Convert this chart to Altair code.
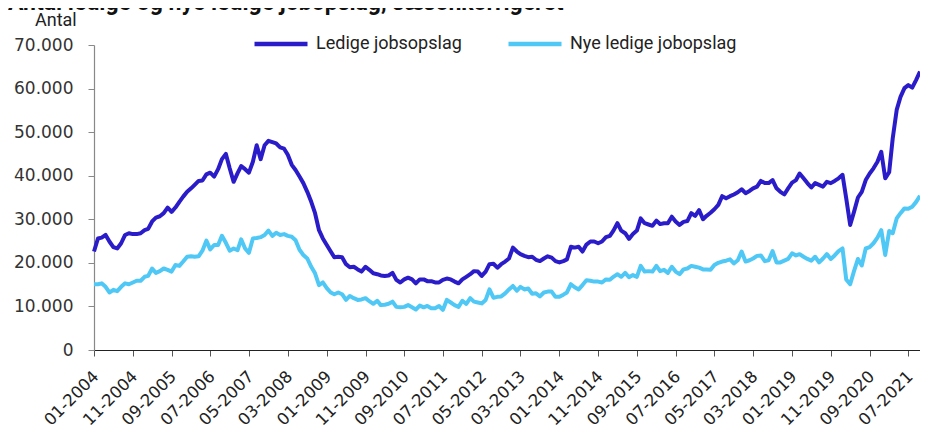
import altair as alt
import pandas as pd

TITLE = "Antal ledige og nye ledige jobopslag, sæsonkorrigeret"
Y_TITLE = "Antal"
SERIES = ["Ledige jobsopslag", "Nye ledige jobopslag"]
COLORS = ["#2A1CC8", "#4FC8F6"]
START_YEAR = 2004
END_DATE = "2021-10-01"

# thousands, monthly from 01-2004
LEDIGE = [
    22.6, 25.6, 25.8, 26.4, 24.9, 23.6, 23.3, 24.5, 26.4, 26.8,
    26.6, 26.6, 26.8, 27.5, 27.8, 29.5, 30.4, 30.7, 31.4, 32.7,
    31.7, 32.7, 34.0, 35.2, 36.3, 37.1, 37.9, 38.8, 38.9, 40.3,
    40.7, 39.8, 41.5, 43.8, 45.0, 41.7, 38.6, 40.6, 42.2, 41.5,
    40.7, 43.2, 47.0, 43.8, 47.0, 48.0, 47.7, 47.4, 46.5, 46.2,
    44.8, 42.5, 41.3, 39.8, 38.3, 36.3, 34.0, 31.4, 27.5, 25.6,
    24.1, 22.6, 21.3, 21.4, 21.3, 19.7, 19.0, 19.1, 18.5, 18.0,
    19.1, 18.4, 17.6, 17.4, 17.1, 17.0, 17.1, 17.7, 16.1, 15.5,
    16.2, 16.6, 16.2, 15.3, 16.2, 16.2, 15.8, 15.8, 15.5, 15.5,
    16.1, 16.4, 16.2, 15.7, 15.3, 16.2, 16.8, 17.4, 18.1, 18.0,
    17.0, 18.0, 19.7, 19.8, 18.9, 19.7, 20.3, 21.0, 23.5, 22.6,
    22.0, 21.6, 21.3, 21.4, 20.7, 20.4, 21.0, 21.5, 21.2, 20.4,
    20.1, 20.4, 20.8, 23.7, 23.5, 23.7, 22.6, 24.2, 24.9, 24.9,
    24.5, 24.9, 25.9, 26.2, 27.4, 29.1, 27.4, 26.8, 25.5, 26.6,
    27.4, 30.2, 29.1, 28.8, 28.5, 29.7, 28.9, 29.1, 29.1, 30.6,
    29.5, 28.7, 29.4, 29.6, 31.4, 30.8, 32.1, 30.0, 30.8, 31.5,
    32.3, 33.3, 35.3, 34.8, 35.3, 35.7, 36.2, 36.9, 36.0, 36.5,
    37.1, 37.5, 38.8, 38.3, 38.3, 39.0, 37.1, 36.3, 35.7, 37.1,
    38.4, 39.0, 40.5, 39.4, 38.3, 37.3, 38.3, 37.9, 37.5, 38.6,
    38.3, 38.8, 39.4, 40.2, 34.8, 28.7, 31.7, 35.0, 36.3, 39.0,
    40.5, 41.7, 43.2, 45.5, 39.4, 40.8, 48.6, 55.1, 58.1, 60.1,
    60.8, 60.2, 62.0, 63.9,
]
NYE = [
    15.1, 15.1, 15.3, 14.5, 13.2, 13.8, 13.5, 14.5, 15.3, 15.1,
    15.5, 15.9, 15.9, 16.8, 17.0, 18.7, 17.7, 18.1, 18.7, 18.4,
    18.0, 19.5, 19.3, 20.3, 21.4, 21.5, 21.4, 21.5, 22.8, 25.1,
    23.1, 24.1, 24.1, 26.2, 24.6, 22.8, 23.3, 22.9, 25.4, 23.3,
    22.3, 25.6, 25.7, 25.9, 26.4, 27.4, 26.2, 26.9, 26.4, 26.6,
    26.2, 26.0, 25.2, 23.0, 21.8, 21.0, 19.1, 17.6, 14.9, 15.5,
    14.2, 13.2, 12.8, 13.2, 12.8, 11.5, 12.4, 11.9, 11.5, 11.6,
    11.9, 11.2, 10.6, 11.3, 10.3, 10.4, 10.6, 11.1, 9.9, 9.8,
    9.9, 10.3, 9.8, 9.3, 10.2, 9.8, 10.1, 9.6, 9.6, 10.1,
    9.2, 11.5, 10.9, 10.3, 9.9, 11.3, 10.6, 11.9, 11.1, 10.9,
    10.7, 11.5, 13.9, 12.0, 12.2, 12.3, 13.0, 13.9, 14.7, 13.6,
    14.5, 13.9, 14.1, 12.9, 13.0, 12.3, 13.2, 13.4, 13.4, 12.2,
    12.2, 12.7, 13.2, 15.1, 14.4, 13.9, 14.9, 16.0, 15.9, 15.7,
    15.7, 15.5, 16.2, 16.1, 16.8, 17.4, 16.8, 17.7, 16.7, 17.2,
    16.8, 19.3, 18.0, 18.1, 18.0, 19.3, 18.1, 18.4, 17.7, 19.1,
    18.0, 17.4, 18.5, 18.7, 19.3, 19.1, 18.9, 18.5, 18.5, 18.4,
    19.5, 20.0, 20.3, 20.5, 20.8, 19.9, 20.6, 22.6, 20.3, 20.6,
    21.0, 21.6, 21.7, 20.4, 20.6, 22.7, 20.1, 20.1, 20.5, 20.9,
    22.2, 21.7, 22.0, 21.4, 20.9, 20.5, 21.4, 20.1, 21.0, 22.0,
    20.9, 21.7, 22.7, 23.3, 16.2, 15.1, 18.1, 20.9, 19.4, 23.3,
    23.6, 24.5, 25.8, 27.5, 21.8, 27.3, 26.8, 30.2, 31.4, 32.5,
    32.4, 32.9, 34.0, 35.4,
]
X_TICK_LABELS = [
    "01-2004", "11-2004", "09-2005", "07-2006", "05-2007", "03-2008",
    "01-2009", "11-2009", "09-2010", "07-2011", "05-2012", "03-2013",
    "01-2014", "11-2014", "09-2015", "07-2016", "05-2017", "03-2018",
    "01-2019", "11-2019", "09-2020", "07-2021",
]
Y_TICKS = [0, 10000, 20000, 30000, 40000, 50000, 60000, 70000]

n = len(LEDIGE)
months = [f"{START_YEAR + k // 12}-{k % 12 + 1:02d}-01" for k in range(n)]
df = pd.DataFrame({
    "date": months + months,
    "value": [v * 1000 for v in LEDIGE] + [v * 1000 for v in NYE],
    "series": [SERIES[0]] * n + [SERIES[1]] * n,
})


def dt(s):
    y, m, d = s.split("-")
    return alt.DateTime(year=int(y), month=int(m), date=int(d), utc=True)


x_tick_values = [alt.DateTime(year=int(s[3:]), month=int(s[:2]), date=1, utc=True)
                 for s in X_TICK_LABELS]

TICK_FONT = "DejaVu Sans"

lines = alt.Chart(df).mark_line(strokeWidth=4, strokeJoin="round").encode(
    x=alt.X(
        "date:T",
        scale=alt.Scale(type="utc", domain=[dt(months[0]), dt(END_DATE)], nice=False),
        axis=alt.Axis(
            values=x_tick_values, format="%m-%Y", labelAngle=-45,
            labelFont=TICK_FONT, labelFontSize=16.5, labelColor="#222",
            labelOverlap=False, labelFlush=False, labelBound=False,
            labelPadding=12, labelOffset=-4,
            domainColor="#222", domainWidth=1.2, tickColor="#555", tickSize=6,
            grid=False, title=None,
        ),
    ),
    y=alt.Y(
        "value:Q",
        scale=alt.Scale(domain=[0, 70000], nice=False),
        axis=alt.Axis(
            values=Y_TICKS,
            labelExpr="replace(format(datum.value, ','), ',', '.')",
            labelFont=TICK_FONT, labelFontSize=17, labelColor="#333",
            labelPadding=15, domainColor="#888", domainWidth=1.2,
            tickColor="#888", tickSize=6, grid=False, title=None,
        ),
    ),
    color=alt.Color(
        "series:N",
        scale=alt.Scale(domain=SERIES, range=COLORS),
        sort=SERIES,
        legend=alt.Legend(
            orient="none", legendX=158, legendY=-30, direction="horizontal",
            title=None, symbolType="stroke", symbolSize=2809, symbolStrokeWidth=4.5,
            labelFont="Roboto", labelFontSize=18, labelColor="#222", labelLimit=0,
            labelOffset=6, columnPadding=37, padding=0,
        ),
    ),
)

title_text = alt.Chart(pd.DataFrame({"t": [TITLE]})).mark_text(
    align="left", baseline="alphabetic", font="Roboto", fontSize=23,
    fontWeight="bold", color="#111",
).encode(text="t:N", x=alt.value(-86), y=alt.value(-35))

y_title = alt.Chart(pd.DataFrame({"t": [Y_TITLE]})).mark_text(
    align="left", baseline="alphabetic", font="Roboto", fontSize=18, color="#222",
).encode(text="t:N", x=alt.value(-59), y=alt.value(-19))

chart = alt.layer(lines, title_text, y_title).properties(
    width=826, height=305,
    autosize=alt.AutoSizeParams(type="none"),
    padding={"left": 86, "top": 37, "right": 0, "bottom": 75},
).configure_view(stroke=None)

chart.save("out.html", embed_options={"renderer": "svg", "actions": False})
